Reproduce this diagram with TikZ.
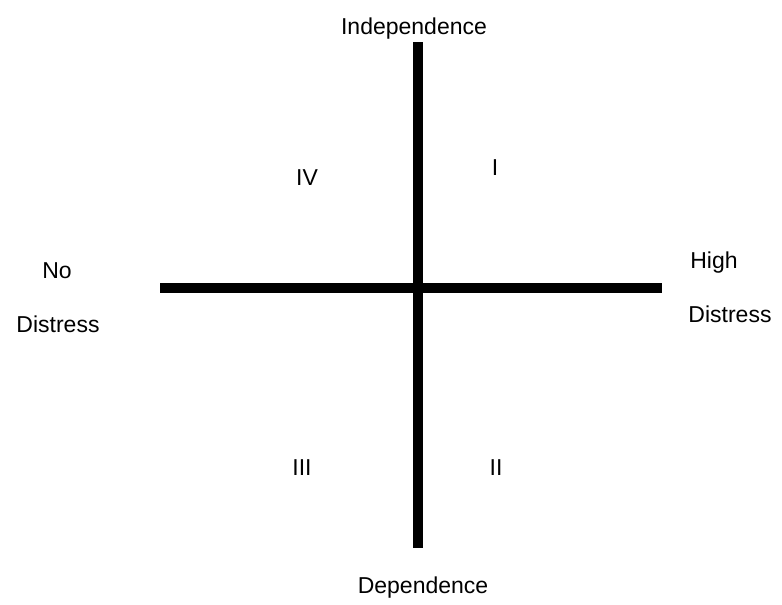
\documentclass[tikz,border=0pt]{standalone}
\usepackage{fontspec}
\setmainfont{Liberation Sans}
\usepackage{tikz}
\usetikzlibrary{positioning}
\tikzset{
  axisline/.style={draw=black, line width=4.8pt},
  lbl/.style={anchor=base, inner sep=0pt, font=\fontsize{11.5}{13}\selectfont},
  quad/.style={anchor=base, inner sep=0pt, font=\fontsize{11.5}{13}\selectfont}
}
\begin{document}
\begin{tikzpicture}[x=0.5pt,y=-0.5pt]
\useasboundingbox (0,0) rectangle (782,605);
\coordinate (top) at (418,42);
\coordinate (bottom) at (418,548);
\coordinate (left) at (160,288);
\coordinate (right) at (662,288);
\draw[axisline] (top) -- (bottom);
\draw[axisline] (left) -- (right);
\node[lbl] (indep) at (414,34) {Independence};
\node[lbl] (dep) at (423,593) {Dependence};
\node[lbl] (no) at (57,278) {No};
\node[lbl] (nodist) at (58,332) {Distress};
\node[lbl] (high) at (714,268) {High};
\node[lbl] (highdist) at (730,322) {Distress};
\node[quad] (q1) at (495,175) {I};
\node[quad] (q2) at (496,475) {II};
\node[quad] (q3) at (302,475) {III};
\node[quad] (q4) at (307,185) {IV};
\end{tikzpicture}
\end{document}
